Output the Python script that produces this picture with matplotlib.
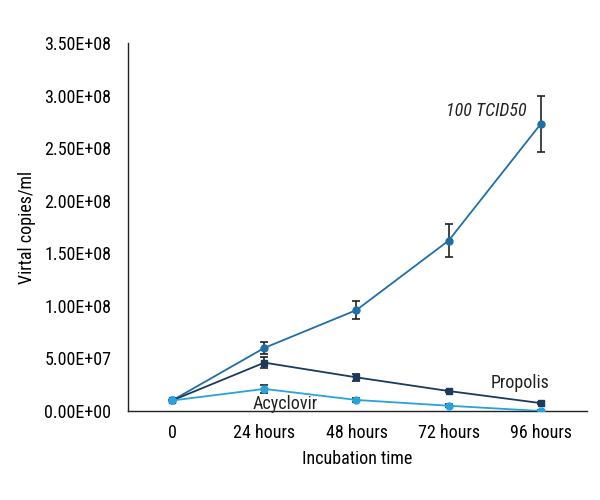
import matplotlib
matplotlib.use("Agg")
import matplotlib.pyplot as plt

plt.rcParams['font.family'] = ['Roboto Condensed', 'PT Sans Narrow', 'DejaVu Sans']

categories = ["0", "24 hours", "48 hours", "72 hours", "96 hours"]
yticks = [0, 0.5e8, 1.0e8, 1.5e8, 2.0e8, 2.5e8, 3.0e8, 3.5e8]
yticklabels = ["0.00E+00", "5.00E+07", "1.00E+08", "1.50E+08", "2.00E+08", "2.50E+08", "3.00E+08", "3.50E+08"]

tcid = [1.0e7, 6.0e7, 9.6e7, 1.62e8, 2.73e8]
tcid_err = [0, 0.6e7, 0.85e7, 1.6e7, 2.7e7]
propolis = [1.0e7, 4.6e7, 3.2e7, 1.9e7, 0.75e7]
propolis_err = [0, 0.5e7, 0.3e7, 0.1e7, 0.1e7]
acyclovir = [1.0e7, 2.1e7, 1.05e7, 0.5e7, 0.0]
acyclovir_err = [0, 0.4e7, 0.15e7, 0.15e7, 0.1e7]

fig = plt.figure(figsize=(6, 5), dpi=100)
ax = fig.add_axes([0.2133, 0.178, 0.7647, 0.736])
x = list(range(len(categories)))

ax.errorbar(x, tcid, yerr=tcid_err, color="#1f6fa6", marker="o", ms=5, lw=1.3,
            ecolor="#222222", elinewidth=1.2, capsize=3, capthick=1.2, zorder=3)
ax.errorbar(x, propolis, yerr=propolis_err, color="#1c3a5e", marker="s", ms=5, lw=1.3,
            ecolor="#222222", elinewidth=1.2, capsize=3, capthick=1.2, zorder=3)
ax.errorbar(x, acyclovir, yerr=acyclovir_err, color="#29a3dc", marker="o", ms=5, lw=1.3,
            ecolor="#222222", elinewidth=1.2, capsize=3, capthick=1.2, zorder=3)

fs = 13
ax.text(3.41, 2.85e8, "100 TCID50", fontsize=fs, style="italic", ha="center", va="center", color="#222222")
ax.text(3.77, 0.27e8, "Propolis", fontsize=fs, ha="center", va="center", color="#222222")
ax.text(1.23, 0.065e8, "Acyclovir", fontsize=fs, ha="center", va="center", color="#222222")

ax.set_xlim(-0.48, 4.5)
ax.set_ylim(0, 3.5e8)
ax.set_xticks(x)
ax.set_xticklabels(categories, fontsize=fs)
ax.set_yticks(yticks)
ax.set_yticklabels(yticklabels, fontsize=fs)
ax.tick_params(length=0, pad=12)
ax.tick_params(axis='x', pad=9)
for s in ["top", "right"]:
    ax.spines[s].set_visible(False)
for s in ["left", "bottom"]:
    ax.spines[s].set_color("#222222")
    ax.spines[s].set_linewidth(1.0)
ax.set_xlabel("Incubation time", fontsize=fs, labelpad=6)
ax.set_ylabel("Virtal copies/ml", fontsize=fs, labelpad=6)

fig.savefig("out.png", dpi=100)
